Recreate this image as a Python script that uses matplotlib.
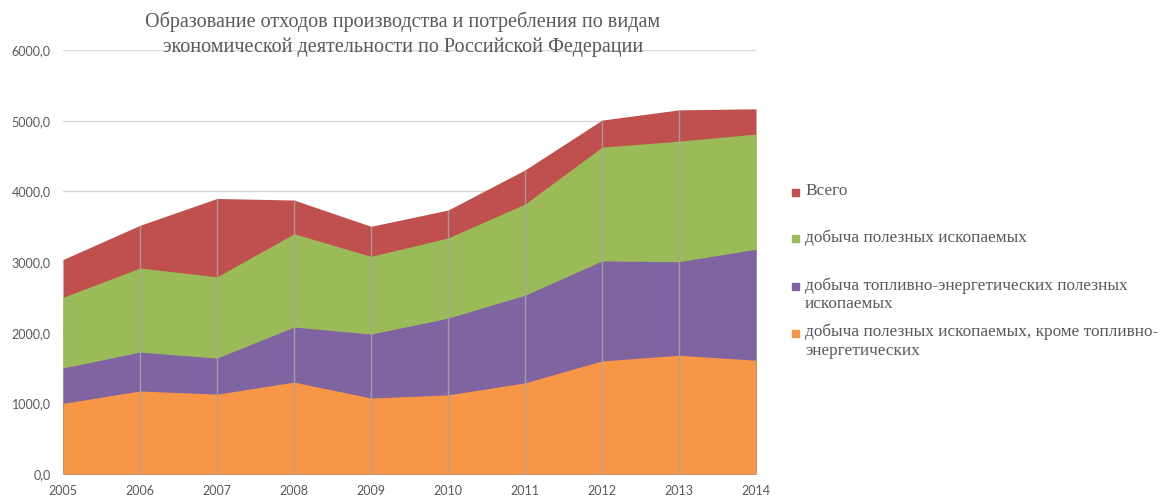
import matplotlib
matplotlib.use("Agg")
import matplotlib.pyplot as plt
from matplotlib.patches import Rectangle
from matplotlib.ticker import FuncFormatter

# years and series values (млн т)
years = [2005, 2006, 2007, 2008, 2009, 2010, 2011, 2012, 2013, 2014]
total = [3035, 3519, 3899, 3877, 3505, 3735, 4303, 5008, 5153, 5168]
mining = [2500, 2915, 2790, 3400, 3080, 3340, 3820, 4625, 4710, 4810]
fuel = [1500, 1725, 1640, 2080, 1980, 2205, 2530, 3015, 3005, 3180]
non_fuel = [1000, 1175, 1130, 1300, 1075, 1120, 1290, 1600, 1680, 1610]

labels = [
    "Всего",
    "добыча полезных ископаемых",
    "добыча топливно-энергетических полезных\nископаемых",
    "добыча полезных ископаемых, кроме топливно-\nэнергетических",
]
title = ("Образование отходов производства и потребления по видам\n"
         "экономической деятельности по Российской Федерации")

RED = "#C0504D"; GREEN = "#9BBB59"; PURPLE = "#8064A2"; ORANGE = "#F79646"
TXT = "#595959"; GRID = "#D9D9D9"; VGRID = "#A6A6A6"
SERIF = ["Liberation Serif", "DejaVu Serif"]
SANS = ["Lato", "DejaVu Sans"]

fig = plt.figure(figsize=(11.59, 4.95), dpi=100)
ax = fig.add_axes([63 / 1159, 21 / 495, 693 / 1159, 424 / 495])

# overlapping (non-stacked) areas, back to front
series = [total, mining, fuel, non_fuel]
colors = [RED, GREEN, PURPLE, ORANGE]
for vals, col in zip(series, colors):
    ax.fill_between(years, 0, vals, color=col, linewidth=0, zorder=2)

# drop lines inside the area at each year
ax.vlines(years[1:-1], 0, total[1:-1], color=VGRID, linewidth=1.0, alpha=0.85, zorder=3)

ax.set_xlim(years[0], years[-1])
ax.set_ylim(0, 6000)
ax.set_yticks(range(0, 6001, 1000))
ax.set_xticks(years)
ax.yaxis.set_major_formatter(FuncFormatter(lambda v, p: f"{v:.1f}".replace(".", ",")))
ax.grid(axis="y", color=GRID, linewidth=1.0, zorder=0)
ax.set_axisbelow(True)
for s in ax.spines.values():
    s.set_visible(False)
ax.tick_params(axis="y", length=0, labelsize=9, colors=TXT, pad=9)
ax.tick_params(axis="x", length=0, labelsize=9, colors=TXT, pad=8)
for t in ax.get_xticklabels() + ax.get_yticklabels():
    t.set_family(SANS)

fig.text(403 / 1159, 1 - 34 / 495, title, ha="center", va="center",
         fontsize=14.5, color=TXT, family=SERIF, linespacing=1.35)

# legend, drawn by hand so rows keep the reference spacing
rows_y = [192, 239, 286, 333]
for lab, col, yy in zip(labels, colors, rows_y):
    fig.patches.append(Rectangle((792 / 1159, 1 - (yy + 3.5) / 495), 7 / 1159, 7 / 495,
                                 transform=fig.transFigure, color=col))
    fig.text(805 / 1159, 1 - (yy - 9) / 495, lab, ha="left", va="top",
             fontsize=12.4, color=TXT, family=SERIF, linespacing=1.2)

fig.savefig("out.png", dpi=100)
